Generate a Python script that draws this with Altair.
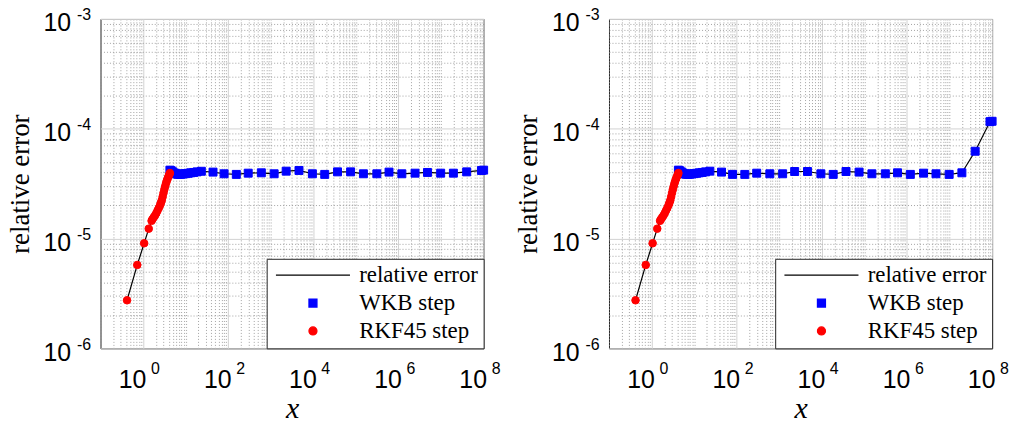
import altair as alt
import pandas as pd

# ---------------- data ----------------
SERIES = ["relative error", "WKB step", "RKF45 step"]

RKF_X = [0.42, 0.73, 1.06, 1.36, 1.585, 1.66, 1.778, 1.905, 2.042, 2.188, 2.344,
         2.512, 2.630, 2.754, 2.884, 3.020, 3.162, 3.311, 3.467, 3.631, 3.802,
         3.981, 4.169, 4.266]
RKF_Y = [2.74e-6, 5.75e-6, 9.06e-6, 1.23e-5, 1.45e-5, 1.50e-5, 1.56e-5, 1.62e-5,
         1.70e-5, 1.80e-5, 1.90e-5, 2.02e-5, 2.12e-5, 2.23e-5, 2.40e-5, 2.60e-5,
         2.80e-5, 3.00e-5, 3.20e-5, 3.38e-5, 3.55e-5, 3.70e-5, 3.85e-5, 3.95e-5]

WKB_X = [4.27, 4.57, 5.01, 5.50, 6.03, 6.61, 7.24, 7.94, 8.91, 10.0, 11.5, 13.2,
         15.5, 18.6, 23.4, 44.0, 80.0, 155.0, 295.0, 600.0, 1.20e3, 2.30e3,
         4.60e3, 9.5e3, 1.85e4, 3.70e4, 7.50e4, 1.50e5, 3.10e5, 6.0e5, 1.20e6,
         2.45e6, 4.80e6, 9.8e6, 1.95e7, 4.0e7, 8.9e7, 1.0e8]
WKB_Y_LEFT = [4.20e-5, 4.15e-5, 4.05e-5, 3.95e-5, 3.88e-5, 3.85e-5, 3.85e-5,
              3.86e-5, 3.88e-5, 3.90e-5, 3.93e-5, 3.97e-5, 4.00e-5, 4.05e-5,
              4.10e-5, 4.03e-5, 3.89e-5, 3.84e-5, 3.94e-5, 3.97e-5, 3.89e-5,
              4.11e-5, 4.17e-5, 3.89e-5, 3.84e-5, 4.05e-5, 4.05e-5, 3.89e-5,
              3.89e-5, 4.03e-5, 3.89e-5, 3.94e-5, 4.00e-5, 3.94e-5, 3.94e-5,
              4.05e-5, 4.17e-5, 4.20e-5]
WKB_Y_RIGHT = [4.20e-5, 4.15e-5, 4.05e-5, 3.95e-5, 3.88e-5, 3.85e-5, 3.85e-5,
               3.86e-5, 3.88e-5, 3.90e-5, 3.93e-5, 3.97e-5, 4.00e-5, 4.05e-5,
               4.11e-5, 4.03e-5, 3.84e-5, 3.84e-5, 3.94e-5, 3.89e-5, 3.89e-5,
               4.08e-5, 4.08e-5, 3.89e-5, 3.84e-5, 4.08e-5, 4.03e-5, 3.89e-5,
               3.89e-5, 3.97e-5, 3.84e-5, 3.94e-5, 3.89e-5, 3.84e-5, 3.97e-5,
               6.24e-5, 1.16e-4, 1.17e-4]

X_MAJOR = [1, 1e2, 1e4, 1e6, 1e8]
Y_MAJOR = [1e-6, 1e-5, 1e-4, 1e-3]
X_MINOR = [k * 10.0 ** n for n in range(-1, 8) for k in range(1, 10)
           if k * 10.0 ** n not in X_MAJOR]
Y_MINOR = [k * 10.0 ** n for n in range(-6, -3) for k in range(2, 10)]

SANS = "Liberation Sans"
SERIF = "Liberation Serif"
FRAME = "#262626"

x_scale = alt.Scale(type="log", domain=[0.1, 1e8], nice=False)
y_scale = alt.Scale(type="log", domain=[1e-6, 1e-3], nice=False)

fill_scale = alt.Scale(domain=SERIES, range=["black", "#0000ff", "#ff0000"])
stroke_scale = alt.Scale(domain=SERIES, range=["black", "#0000ff", "#ff0000"])
shape_scale = alt.Scale(domain=SERIES, range=["M-9.3,0H9.3", "square", "circle"])

legend = alt.Legend(
    title=None, orient="bottom-right", offset=0, fillColor="white",
    strokeColor=FRAME, padding=5, labelFont=SERIF, labelFontSize=23,
    labelColor="black", symbolSize=64, symbolStrokeWidth=1.3,
    symbolOffset=30, labelOffset=35, rowPadding=4,
)


def minor_axis(values, orient):
    return alt.Axis(values=values, orient=orient, grid=True, gridDash=[1, 2],
                    gridColor="#8c8c8c", gridWidth=0.8, labels=False,
                    ticks=False, domain=False, title=None)


x_main = alt.Axis(values=X_MAJOR, orient="bottom", grid=True, gridColor="#d2d2d2",
                  labelExpr="'10'", labelFont=SANS, labelFontSize=25,
                  labelColor="black", labelPadding=19, labelOffset=-11,
                  labelFlush=False, labelOverlap=False, ticks=False, domain=False,
                  title="x", titleFont=SERIF, titleFontSize=30,
                  titleFontStyle="italic", titleFontWeight="normal",
                  titleColor="black", titlePadding=1)
x_exp = alt.Axis(values=X_MAJOR, orient="bottom", grid=False,
                 labelExpr="'' + round(log(datum.value) / LN10)",
                 labelFont=SANS, labelFontSize=16, labelColor="black",
                 labelPadding=12, labelOffset=12, labelFlush=False,
                 labelOverlap=False, ticks=False, domain=False, title=None)
y_main = alt.Axis(values=Y_MAJOR, orient="left", grid=True, gridColor="#d2d2d2",
                  labelExpr="'10'", labelFont=SANS, labelFontSize=25,
                  labelColor="black", labelPadding=30, labelOffset=4,
                  labelFlush=False, labelOverlap=False, ticks=False, domain=False,
                  title="relative error", titleFont=SERIF, titleFontSize=27,
                  titleFontWeight="normal", titleColor="black", titlePadding=9)
y_exp = alt.Axis(values=Y_MAJOR, orient="left", grid=False,
                 labelExpr="'' + round(log(datum.value) / LN10)",
                 labelFont=SANS, labelFontSize=16, labelColor="black",
                 labelPadding=10, labelOffset=-4, labelFlush=False,
                 labelOverlap=False, ticks=False, domain=False, title=None)


def panel(wkb_y):
    rk = pd.DataFrame({"x": RKF_X, "err": RKF_Y, "series": "RKF45 step"})
    wk = pd.DataFrame({"x": WKB_X, "err": wkb_y, "series": "WKB step"})
    all_df = pd.concat([rk, wk], ignore_index=True)

    style = dict(
        fill=alt.Fill("series:N", scale=fill_scale, legend=legend),
        stroke=alt.Stroke("series:N", scale=stroke_scale, legend=legend),
        shape=alt.Shape("series:N", scale=shape_scale, legend=legend),
    )

    line = alt.Chart(all_df).mark_line(color="black", strokeWidth=1.2).encode(
        x=alt.X("x:Q", scale=x_scale, axis=minor_axis(X_MINOR, "bottom")),
        y=alt.Y("err:Q", scale=y_scale, axis=minor_axis(Y_MINOR, "left")),
    )
    wkb = alt.Chart(wk).mark_point(filled=True, size=64, strokeWidth=1,
                                   opacity=1).encode(
        x=alt.X("x:Q", scale=x_scale, axis=x_main),
        y=alt.Y("err:Q", scale=y_scale, axis=y_main),
        **style,
    )
    rkf = alt.Chart(rk).mark_point(filled=True, size=58, strokeWidth=1,
                                   opacity=1).encode(
        x=alt.X("x:Q", scale=x_scale, axis=x_exp),
        y=alt.Y("err:Q", scale=y_scale, axis=y_exp),
        **style,
    )
    return alt.layer(line, wkb, rkf).resolve_axis(
        x="independent", y="independent"
    ).properties(width=385, height=331)


chart = alt.hconcat(panel(WKB_Y_LEFT), panel(WKB_Y_RIGHT), spacing=13).resolve_scale(
    fill="independent", stroke="independent", shape="independent"
).resolve_legend(
    fill="independent", stroke="independent", shape="independent"
).configure_view(
    stroke=FRAME, strokeWidth=1
).properties(
    padding={"left": 5, "top": 5, "right": 5, "bottom": 5}, background="white"
)

chart.save("out.html", embed_options={"renderer": "svg", "actions": False})
